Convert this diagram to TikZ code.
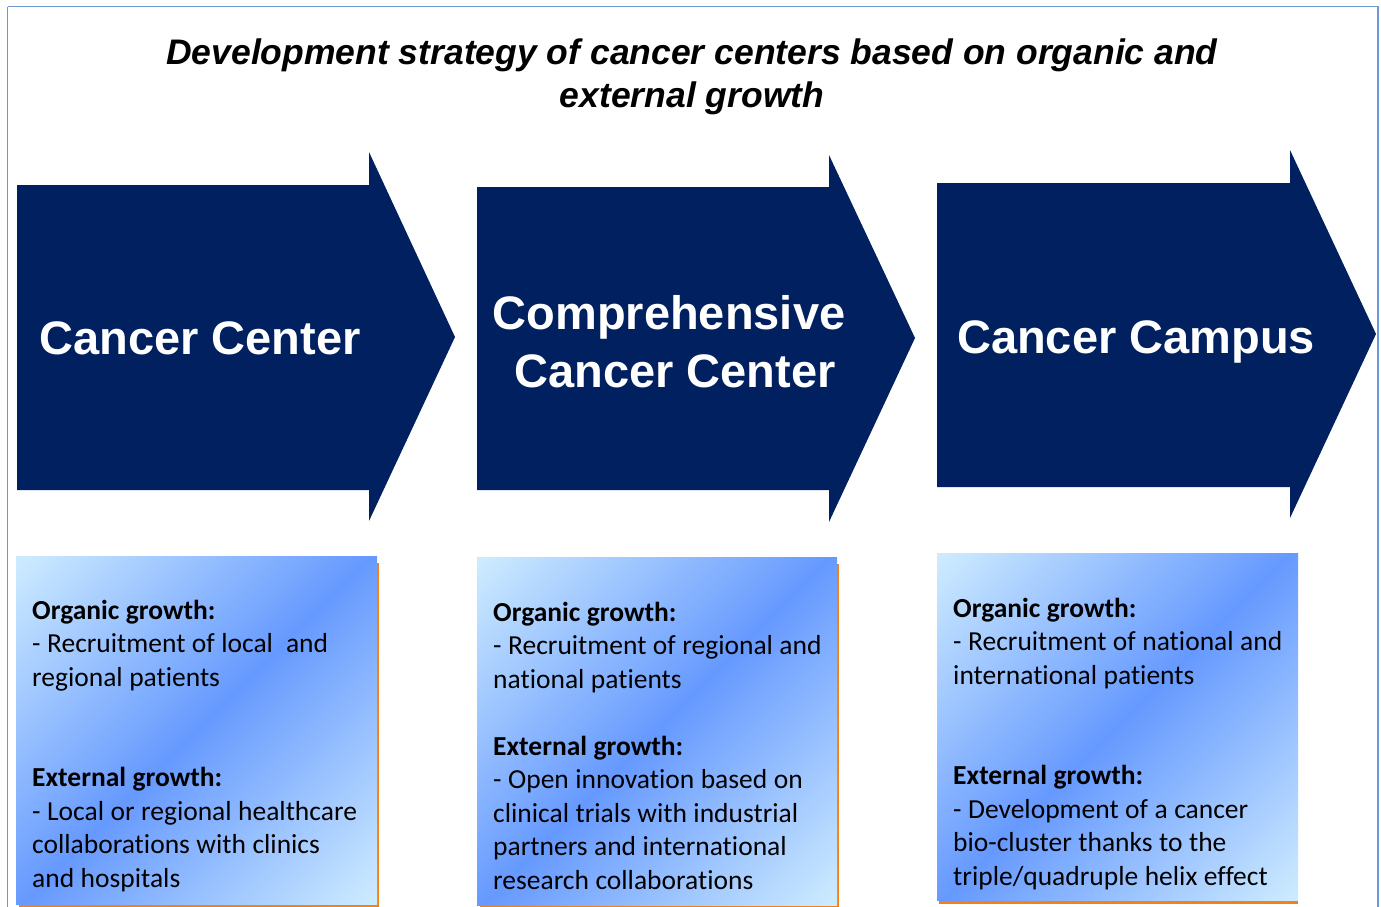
\documentclass[tikz,border=0pt]{standalone}
\usepackage{fontspec}
\setmainfont{Carlito}[Ligatures={NoCommon}]
\newfontfamily\arialf{Liberation Sans}
\definecolor{navy}{RGB}{0,32,96}
\definecolor{framec}{RGB}{112,152,208}
\definecolor{lightc}{RGB}{205,235,255}
\definecolor{bluec}{RGB}{102,153,255}
\definecolor{shadowc}{RGB}{245,128,20}
\pgfdeclarehorizontalshading{boxgrad}{100bp}{color(0bp)=(lightc); color(15bp)=(lightc); color(50bp)=(bluec); color(85bp)=(lightc); color(100bp)=(lightc)}
\newcommand{\tightspaces}{\spaceskip=6.5pt plus 1pt minus 0pt\relax}
\begin{document}
\begin{tikzpicture}[x=1pt,y=-1pt,
  arrowshape/.style={fill=navy, draw=none},
  arrowtext/.style={text=white, font=\arialf\bfseries\fontsize{47}{58}\selectfont, align=center, inner sep=0pt},
  gradbox/.style={shading=boxgrad, shading angle=-45, draw=none},
  shadowbox/.style={fill=shadowc, draw=none},
  boxtext/.style={anchor=base west, inner sep=0pt, align=left, text width=345pt, font=\fontsize{27.5}{33.5}\selectfont, text=black}]
\useasboundingbox (0,0) rectangle (1381,906);
\fill[white] (0,0) rectangle (1381,906);
\draw[framec, line width=1.6pt] (7.5,6.5) -- (1378,6.5) -- (1378,930) (7.5,6.5) -- (7.5,930);

\node[inner sep=0pt, align=center, font=\arialf\bfseries\itshape\fontsize{35.5}{43}\selectfont] (title) at (692,77)
  {Development strategy of cancer centers based on organic and\\external growth};

% arrows
\fill[arrowshape] (17,185) -- (369,185) -- (369,152) -- (455,337) -- (369,521) -- (369,490) -- (17,490) -- cycle;
\fill[arrowshape] (477,187) -- (829,187) -- (829,155) -- (915,338) -- (829,522) -- (829,490) -- (477,490) -- cycle;
\fill[arrowshape] (937,183) -- (1290,183) -- (1290,150) -- (1376,334) -- (1290,518) -- (1290,487) -- (937,487) -- cycle;
\node[arrowtext] (a1) at (200,338) {Cancer Center};
\node[arrowtext] (a2) at (669,342) {Comprehensive\\\hspace*{12pt}Cancer Center};
\node[arrowtext] (a3) at (1136,342) {Cancer Campus};

% boxes
\fill[shadowbox] (18.5,563) rectangle (378.5,906.5);
\fill[gradbox] (16,556) rectangle (377,904);
\fill[shadowbox] (479.5,564) rectangle (839,906.5);
\fill[gradbox] (477,557) rectangle (837,905);
\fill[shadowbox] (939,560) rectangle (1298,904);
\fill[gradbox] (937,553) rectangle (1298,900.5);

\node[boxtext] (b1) at (32,619) {\tightspaces\textbf{Organic growth:}\\- Recruitment of local\ \ and\\regional patients\\[67pt]\textbf{External growth:}\\- Local or regional healthcare\\collaborations with clinics\\and hospitals};
\node[boxtext] (b2) at (493,621) {\tightspaces\textbf{Organic growth:}\\- Recruitment of regional and\\national patients\\[33.5pt]\textbf{External growth:}\\- Open innovation based on\\clinical trials with industrial\\partners and international\\research collaborations};
\node[boxtext] (b3) at (953,617) {\tightspaces\textbf{Organic growth:}\\- Recruitment of national and\\international patients\\[67pt]\textbf{External growth:}\\- Development of a cancer\\bio-cluster thanks to the\\triple/quadruple helix effect};
\end{tikzpicture}
\end{document}
